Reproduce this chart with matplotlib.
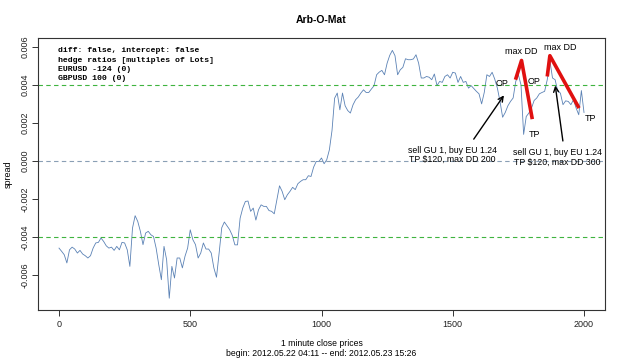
import numpy as np
import matplotlib
matplotlib.use("Agg")
import matplotlib.pyplot as plt

# ---- data ----
minute_index = list(range(0, 2001, 10))
spread_milli = [
    -4.57, -4.74, -4.92, -5.35, -4.66, -4.52, -4.62, -4.83, -4.69, -4.88,
    -4.97, -5.09, -4.97, -4.57, -4.30, -4.27, -4.04, -4.22, -4.45, -4.57,
    -4.52, -4.69, -4.48, -4.66, -4.27, -4.30, -4.66, -5.53, -3.52, -2.87,
    -3.17, -3.69, -4.39, -3.78, -3.69, -3.87, -3.96, -4.57, -5.44, -6.23,
    -4.48, -5.18, -7.20, -5.53, -6.14, -5.09, -5.09, -5.61, -5.00, -4.57,
    -3.61, -4.13, -4.39, -5.09, -4.83, -4.30, -4.62, -4.62, -4.83, -5.61,
    -6.10, -4.83, -3.50, -3.20, -3.40, -3.60, -3.90, -4.40, -4.40, -3.00,
    -2.47, -2.12, -2.10, -2.64, -2.47, -3.10, -2.56, -2.30, -2.38, -2.38,
    -2.60, -2.64, -2.77, -2.03, -1.30, -1.59, -2.03, -1.77, -1.59, -1.38,
    -1.50, -1.19, -1.07, -0.98, -0.98, -0.77, -0.81, -0.32, -0.02, -0.02,
    0.16, -0.14, 0.07, 0.59, 1.60, 3.30, 3.57, 2.69, 3.57, 2.90,
    2.65, 2.52, 2.95, 3.22, 3.36, 3.57, 3.74, 3.60, 3.60, 3.78,
    3.95, 4.53, 4.67, 4.76, 4.53, 5.14, 5.55, 5.81, 5.53, 4.53,
    4.79, 4.92, 5.37, 5.32, 5.32, 5.36, 5.58, 5.14, 4.36, 4.36,
    4.44, 4.40, 4.27, 4.57, 3.96, 4.18, 4.13, 4.44, 4.53, 4.36,
    4.66, 4.62, 4.13, 4.44, 4.13, 4.18, 3.83, 3.96, 3.81, 3.66,
    3.53, 3.00, 3.60, 4.53, 4.44, 4.66, 4.30, 3.83, 3.13, 2.30,
    2.55, 2.90, 3.13, 3.31, 4.18, 4.53, 4.00, 1.40, 2.34, 2.52,
    2.78, 3.18, 3.31, 3.53, 3.60, 3.66, 4.27, 5.28, 4.36, 4.27,
    3.66, 3.57, 2.96, 3.16, 3.13, 2.96, 3.22, 2.78, 2.43, 3.70,
    2.55,
]
spread = np.array(spread_milli) * 1e-3

band_levels = [0.00397, -0.00397]
mean_level = 0.0

x_ticks = [0, 500, 1000, 1500, 2000]
y_ticks = [-0.006, -0.004, -0.002, 0.000, 0.002, 0.004, 0.006]

info_lines = [
    "diff: false, intercept: false",
    "hedge ratios [multiples of Lots]",
    "EURUSD -124 (0)",
    "GBPUSD 100 (0)",
]

# trade sketches (data coords)
dd1_x = [1739, 1762, 1803]
dd1_y = [0.00427, 0.00528, 0.00220]
dd2_x = [1860, 1870, 1981]
dd2_y = [0.00444, 0.00553, 0.00278]

# ---- figure ----
plt.rcParams['font.family'] = ['Liberation Sans', 'DejaVu Sans']
fig = plt.figure(figsize=(6.25, 3.58), dpi=100)
ax = fig.add_axes([38 / 625, 1 - 310 / 358, (605 - 38) / 625, (310 - 38) / 358])

ax.plot(minute_index, spread, color='#5b82b5', lw=0.6)

for lv in band_levels:
    ax.axhline(lv, color='#3fb43f', lw=0.8, ls=(0, (4, 3)))
ax.axhline(mean_level, color='#8a9fb5', lw=0.8, ls=(0, (4, 3)))

ax.set_xlim(-80, 2080)
ax.set_ylim(-0.00782, 0.00646)

ax.set_xticks(x_ticks)
ax.set_xticklabels([str(t) for t in x_ticks], fontsize=6.5, color='#222222')
ax.set_yticks(y_ticks)
ax.set_yticklabels([f"{t:.3f}" for t in y_ticks], fontsize=6.5, rotation=90,
                   va='center', color='#222222')
ax.tick_params(axis='both', direction='out', length=4, width=0.7, color='#333333')
ax.tick_params(axis='x', pad=3)
ax.tick_params(axis='y', pad=2)
for s in ax.spines.values():
    s.set_color('#333333')
    s.set_linewidth(0.8)

ax.set_ylabel("spread", fontsize=6.5, labelpad=6)
fig.text(0.5145, 1 - 20 / 358, "Arb-O-Mat", fontsize=7.5, fontweight='bold',
         ha='center', va='center')
fig.text(0.5145, 1 - 343 / 358, "1 minute close prices", fontsize=6.2,
         ha='center', va='center')
fig.text(0.5145, 1 - 353 / 358, "begin: 2012.05.22 04:11 -- end: 2012.05.23 15:26",
         fontsize=6.2, ha='center', va='center')

for i, line in enumerate(info_lines):
    fig.text(58.5 / 625, 1 - (50.5 + i * 9.5) / 358, line, fontsize=5.9,
             family='Liberation Mono', fontweight='bold', ha='left', va='center')

# red drawdown sketches
ax.plot(dd1_x, dd1_y, color='#e01010', lw=2.6, solid_capstyle='butt')
ax.plot(dd2_x, dd2_y, color='#e01010', lw=2.6, solid_capstyle='butt')

kw = dict(fontsize=6.5, ha='center', va='center')
ax.text(1760, 0.00574, "max DD", **kw)
ax.text(1911, 0.00597, "max DD", **kw)
ax.text(1689, 0.00409, "OP", **kw)
ax.text(1809, 0.00418, "OP", **kw)
ax.text(1812, 0.00140, "TP", **kw)
ax.text(2026, 0.00225, "TP", **kw)

ax.annotate("", xy=(1701, 0.00357), xytext=(1574, 0.00103),
            arrowprops=dict(arrowstyle='->', color='black', lw=1.0,
                            mutation_scale=9))
ax.annotate("", xy=(1889, 0.00411), xytext=(1921, 0.00091),
            arrowprops=dict(arrowstyle='->', color='black', lw=1.0,
                            mutation_scale=9))
ax.text(1499, 0.00033, "sell GU 1, buy EU 1.24\nTP $120, max DD 200",
        fontsize=6.3, ha='center', va='center', linespacing=1.05)
ax.text(1900, 0.00018, "sell GU 1, buy EU 1.24\nTP $120, max DD 300",
        fontsize=6.3, ha='center', va='center', linespacing=1.05)

fig.savefig("out.png", dpi=100)
